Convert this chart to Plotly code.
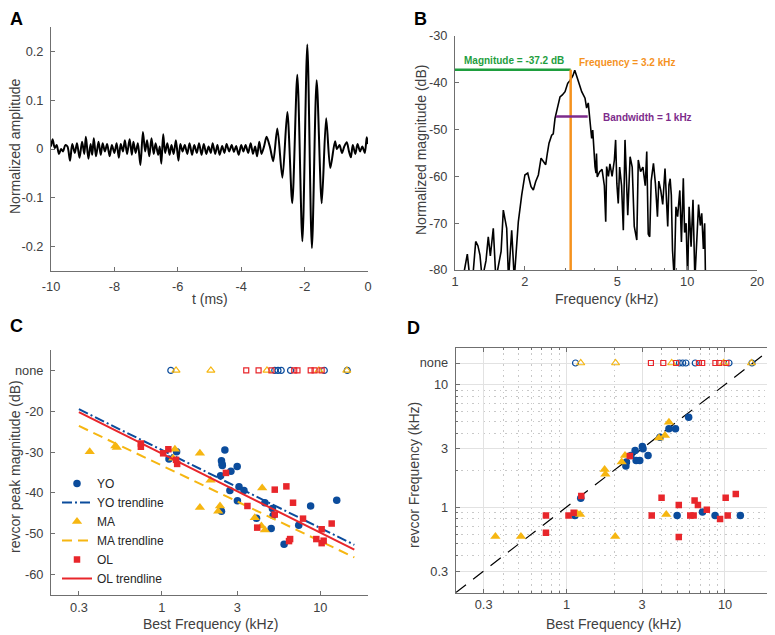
import plotly.graph_objects as go

# ---------------- Panel A: revcor waveform ----------------
wave_t = [-10.00, -9.95, -9.88, -9.82, -9.75, -9.68, -9.62, -9.55, -9.48, -9.40,
          -9.33, -9.25, -9.18, -9.10, -9.02, -8.95, -8.90, -8.82, -8.75, -8.70,
          -8.65, -8.58, -8.50, -8.43, -8.37, -8.30, -8.23, -8.15, -8.08, -8.00,
          -7.93, -7.86, -7.80, -7.73, -7.67, -7.60, -7.52, -7.45, -7.40, -7.33,
          -7.26, -7.18, -7.10, -7.03, -6.97, -6.90, -6.83, -6.76, -6.70, -6.62,
          -6.57, -6.52, -6.46, -6.40, -6.33, -6.26, -6.20, -6.13, -6.06, -5.98,
          -5.92, -5.85, -5.78, -5.70, -5.63, -5.55, -5.48, -5.40, -5.33, -5.25,
          -5.18, -5.10, -5.03, -4.96, -4.90, -4.82, -4.75, -4.68, -4.60, -4.53,
          -4.46, -4.38, -4.30, -4.23, -4.16, -4.08, -4.00, -3.93, -3.86, -3.78,
          -3.70, -3.63, -3.56, -3.50, -3.43, -3.36, -3.28, -3.20, -3.09, -2.99,
          -2.86, -2.70, -2.545, -2.39, -2.23, -2.07, -1.915, -1.77, -1.62, -1.46,
          -1.32, -1.19, -1.04, -0.98, -0.90, -0.82, -0.75, -0.67, -0.60, -0.54,
          -0.48, -0.40, -0.33, -0.25, -0.18, -0.10, -0.04, 0.00]
wave_amp = [0.005, 0.020, 0.002, 0.008, -0.010, 0.000, -0.005, 0.008, 0.005, -0.024,
            0.010, -0.008, 0.012, -0.018, 0.015, -0.010, 0.025, -0.020, 0.010, -0.012,
            0.022, -0.015, 0.015, -0.012, 0.012, -0.005, 0.010, -0.015, 0.008, -0.008,
            0.012, -0.018, 0.010, -0.005, 0.018, -0.010, 0.020, -0.012, 0.015, -0.008,
            0.012, -0.033, 0.035, -0.005, 0.018, -0.015, 0.022, -0.010, 0.012, -0.012,
            0.005, -0.030, 0.030, -0.008, 0.012, -0.012, 0.008, -0.010, 0.018, -0.024,
            0.010, -0.005, 0.008, -0.010, 0.012, -0.012, 0.008, -0.008, 0.012, -0.012,
            0.010, -0.010, 0.005, -0.008, 0.012, -0.010, 0.008, -0.012, 0.006, -0.008,
            0.010, -0.005, 0.008, -0.006, 0.006, -0.012, 0.008, -0.005, 0.008, -0.008,
            0.012, -0.010, 0.005, -0.015, 0.015, -0.010, 0.005, 0.025, 0.003, -0.025,
            0.042, -0.059, 0.076, -0.111, 0.152, -0.189, 0.214, -0.203, 0.141, -0.111,
            0.063, -0.039, 0.016, 0.000, 0.008, -0.008, 0.005, 0.014, -0.005, -0.017,
            0.008, -0.010, 0.010, -0.005, 0.005, -0.008, 0.024, 0.010]

# ---------------- Panel B: spectrum ----------------
spec_f = [1.08, 1.13, 1.16, 1.20, 1.228, 1.255, 1.281, 1.31, 1.36, 1.391,
          1.42, 1.462, 1.50, 1.58, 1.615, 1.670, 1.70, 1.755, 1.80, 1.874,
          1.938, 2.00, 2.057, 2.10, 2.126, 2.175, 2.227, 2.286, 2.348, 2.403,
          2.459, 2.50, 2.541, 2.609, 2.65, 2.697, 2.770, 2.834, 2.90, 2.979,
          3.059, 3.13, 3.22, 3.28, 3.34, 3.42, 3.515, 3.632, 3.69, 3.75,
          3.817, 3.88, 3.92, 3.984, 4.01, 4.05, 4.07, 4.10, 4.20, 4.30,
          4.40, 4.46, 4.50, 4.58, 4.65, 4.75, 4.86, 4.92, 4.98, 5.05,
          5.12, 5.22, 5.31, 5.40, 5.48, 5.55, 5.68, 5.80, 5.92, 6.07,
          6.16, 6.30, 6.45, 6.60, 6.70, 6.80, 6.90, 7.00, 7.16, 7.30,
          7.45, 7.55, 7.70, 7.85, 8.03, 8.15, 8.25, 8.35, 8.45, 8.55,
          8.65, 8.80, 8.95, 9.10, 9.30, 9.45, 9.63, 9.75, 9.90, 10.05,
          10.2, 10.4, 10.6, 10.8, 11.0, 11.2, 11.4, 11.56, 11.75, 11.9, 12.0]
spec_db = [-82, -76.6, -82, -80, -73.9, -74.8, -76.8, -82, -78, -72.9,
           -77, -71.1, -82, -76, -67.2, -71.1, -82, -71.5, -82, -69.7,
           -64.0, -59.7, -59.3, -61.0, -62.2, -62.9, -61.1, -59.7, -56.1, -56.8,
           -57.5, -55.0, -52.9, -51.2, -50.9, -47.6, -45.1, -43.0, -42.6, -41.9,
           -40.1, -39.5, -38.5, -37.3, -38.5, -40.1, -41.9, -43.3, -45.4, -44.3,
           -47.9, -51.9, -50.1, -56.9, -57.9, -59.3, -55.1, -60.1, -59.0, -58.5,
           -62.0, -69.7, -57.9, -60.0, -57.3, -60.0, -56.5, -52.2, -61.5, -65.8,
           -58.0, -62.0, -71.5, -52.2, -61.5, -68.3, -55.8, -58.0, -70.7, -73.6,
           -56.5, -59.0, -58.0, -62.0, -54.7, -72.3, -72.9, -61.0, -57.2, -61.5,
           -68.6, -61.0, -63.0, -66.0, -58.3, -66.5, -70.7, -61.8, -60.5, -64.0,
           -75.7, -82, -66.5, -68.6, -63.0, -74.0, -60.4, -72.0, -70.0, -82,
           -66.5, -75.0, -65.0, -82, -72.5, -66.0, -70.5, -67.9, -75.5, -70.0, -82]
peak_mag = -37.2
peak_freq = 3.15
bw_level = -47.2
bw_lo = 2.72
bw_hi = 3.73

# ---------------- Panel C: revcor peak magnitude vs BF ----------------
c_yo_bf = [1.11, 1.24, 2.50, 2.38, 2.40, 2.41, 2.35, 2.73, 2.99, 2.69, 3.0, 3.07,
           3.30, 2.38, 3.96, 4.47, 4.90, 4.99, 5.04, 5.91, 7.31, 8.69, 12.7]
c_yo_mag = [-31.7, -29.9, -29.5, -32.1, -32.9, -33.3, -35.8, -34.7, -33.5, -39.4, -41.9, -38.5,
            -39.4, -44.5, -46.2, -42.4, -48.7, -43.8, -45.5, -52.6, -47.9, -43.2, -41.8]
c_ma_bf = [0.351, 0.509, 0.52, 1.21, 1.18, 1.74, 2.03, 1.74, 2.33, 2.27, 3.86, 4.30, 4.25, 4.47]
c_ma_mag = [-29.9, -28.5, -28.9, -29.3, -31.5, -30.3, -36.9, -43.6, -43.2, -44.5, -46.1, -38.8, -48.1, -49.1]
c_ol_bf = [0.738, 0.738, 1.02, 1.10, 1.23, 1.25, 2.54, 3.47, 4.0, 5.16, 6.11, 5.16,
           6.73, 6.35, 6.45, 7.78, 9.44, 10.2, 10.2, 10.5, 11.8]
c_ol_mag = [-27.9, -28.7, -30.3, -29.3, -31.9, -32.9, -35.1, -43.2, -48.5, -39.2, -38.4, -45.3,
            -42.4, -51.8, -51.3, -46.3, -51.3, -48.9, -52.3, -51.7, -47.5]
trend_f = [0.3, 16.4]
yo_trend = [-19.5, -52.7]
ma_trend = [-23.6, -55.8]
ol_trend = [-20.2, -53.9]

# neurons with no revcor peak ("none")
none_yo_bf = [1.14, 5.16, 5.41, 5.67, 6.49, 10.6, 14.8]
none_ma_bf = [1.23, 2.04, 4.61, 9.8, 14.7]
none_ol_bf = [3.41, 4.08, 4.92, 6.85, 7.18, 8.7, 9.2, 10.2]
none_c_level = -10
none_d_level = 15

# ---------------- Panel D: revcor frequency vs BF ----------------
d_yo_bf = [1.13, 1.23, 2.37, 2.39, 2.71, 2.75, 2.90, 3.01, 3.04, 3.27, 2.55, 3.89,
           4.43, 4.87, 5.90, 4.99, 7.21, 8.66, 12.5]
d_yo_rf = [0.855, 1.18, 2.16, 2.33, 2.90, 2.40, 2.40, 3.12, 2.99, 2.64, 2.64, 3.72,
           4.35, 4.35, 5.42, 0.855, 0.91, 0.855, 0.855]
d_ma_bf = [0.356, 0.516, 1.17, 1.22, 2.03, 1.74, 1.76, 2.23, 2.34, 3.83, 4.18, 4.43, 4.26]
d_ma_rf = [0.576, 0.576, 0.883, 0.87, 0.576, 2.03, 1.85, 2.33, 2.64, 3.67, 3.84, 4.93, 0.87]
d_ol_bf = [0.742, 0.742, 1.03, 1.11, 1.24, 2.51, 3.45, 3.98, 5.11, 5.11, 6.04, 6.34,
           6.43, 6.75, 7.68, 9.31, 10.1, 10.4, 11.7]
d_ol_rf = [0.855, 0.618, 0.855, 0.90, 1.23, 2.61, 0.855, 1.19, 1.04, 0.57, 0.855, 0.855,
           1.13, 1.04, 0.95, 0.80, 1.19, 0.855, 1.28]
unity = [0.2, 20]

# ---------------- styling ----------------
FONT = "Liberation Sans, Arial, Helvetica, sans-serif"
BLUE = "#0B4C9C"
YEL = "#F6B611"
RED = "#E8262B"
AX = "#6f6f6f"
TXT = "#404040"

# the page body has an 8px margin: figure is sized to fill the rest of the window
OFF = 8
W = 775 - OFF
H = 635 - OFF


def px(x):
    return (x - OFF) / W


def py(y):
    return 1 - (y - OFF) / H


def dom_x(a, b):
    return [px(a), px(b)]


def dom_y(top, bottom):
    return [py(bottom), py(top)]


fig = go.Figure()

# A
fig.add_trace(go.Scatter(x=wave_t, y=wave_amp, mode="lines", line=dict(color="black", width=2, shape="spline", smoothing=0.8),
                         xaxis="x", yaxis="y", showlegend=False))
# B
fig.add_trace(go.Scatter(x=spec_f, y=spec_db, mode="lines", line=dict(color="black", width=1.6),
                         xaxis="x2", yaxis="y2", showlegend=False))
fig.add_trace(go.Scatter(x=[1, peak_freq], y=[peak_mag, peak_mag], mode="lines", line=dict(color="#1E9E3E", width=2.5),
                         xaxis="x2", yaxis="y2", showlegend=False))
fig.add_trace(go.Scatter(x=[peak_freq, peak_freq], y=[-80, peak_mag], mode="lines", line=dict(color="#F5921E", width=2.5),
                         xaxis="x2", yaxis="y2", showlegend=False))
fig.add_trace(go.Scatter(x=[bw_lo, bw_hi], y=[bw_level, bw_level], mode="lines", line=dict(color="#7D2B8B", width=2.5),
                         xaxis="x2", yaxis="y2", showlegend=False))


def pts(x, y, name, color, symbol, size, xa, ya, show, open_=False):
    if open_:
        m = dict(color=color, symbol=symbol + "-open", size=size, line=dict(color=color, width=1.2))
    else:
        m = dict(color=color, symbol=symbol, size=size, line=dict(width=0))
    return go.Scatter(x=x, y=y, mode="markers", marker=m, name=name, xaxis=xa, yaxis=ya, showlegend=show)


# C
fig.add_trace(pts(none_yo_bf, [none_c_level] * len(none_yo_bf), "", BLUE, "circle", 6, "x3", "y3", False, True))
fig.add_trace(pts(none_ma_bf, [none_c_level] * len(none_ma_bf), "", YEL, "triangle-up", 7, "x3", "y3", False, True))
fig.add_trace(pts(none_ol_bf, [none_c_level] * len(none_ol_bf), "", RED, "square", 5, "x3", "y3", False, True))

fig.add_trace(pts(c_yo_bf, c_yo_mag, "YO", BLUE, "circle", 7.5, "x3", "y3", True))
fig.add_trace(go.Scatter(x=trend_f, y=yo_trend, mode="lines", name="YO trendline",
                         line=dict(color=BLUE, width=2, dash="10px,3px,2px,3px"), xaxis="x3", yaxis="y3"))
fig.add_trace(pts(c_ma_bf, c_ma_mag, "MA", YEL, "triangle-up", 9, "x3", "y3", True))
fig.add_trace(go.Scatter(x=trend_f, y=ma_trend, mode="lines", name="MA trendline",
                         line=dict(color=YEL, width=2, dash="10px,6px"), xaxis="x3", yaxis="y3"))
fig.add_trace(pts(c_ol_bf, c_ol_mag, "OL", RED, "square", 6.5, "x3", "y3", True))
fig.add_trace(go.Scatter(x=trend_f, y=ol_trend, mode="lines", name="OL trendline",
                         line=dict(color=RED, width=2), xaxis="x3", yaxis="y3"))

# D
fig.add_trace(go.Scatter(x=unity, y=unity, mode="lines", line=dict(color="black", width=1.2, dash="13px,9px"),
                         xaxis="x4", yaxis="y4", showlegend=False))
fig.add_trace(pts(none_yo_bf, [none_d_level] * len(none_yo_bf), "", BLUE, "circle", 6, "x4", "y4", False, True))
fig.add_trace(pts(none_ma_bf, [none_d_level] * len(none_ma_bf), "", YEL, "triangle-up", 7, "x4", "y4", False, True))
fig.add_trace(pts(none_ol_bf, [none_d_level] * len(none_ol_bf), "", RED, "square", 5, "x4", "y4", False, True))
fig.add_trace(pts(d_yo_bf, d_yo_rf, "", BLUE, "circle", 7.5, "x4", "y4", False))
fig.add_trace(pts(d_ma_bf, d_ma_rf, "", YEL, "triangle-up", 9, "x4", "y4", False))
fig.add_trace(pts(d_ol_bf, d_ol_rf, "", RED, "square", 6.5, "x4", "y4", False))


def axis(domain, anchor, **kw):
    d = dict(domain=domain, anchor=anchor, showline=True, linecolor=AX, linewidth=1,
             ticks="inside", ticklen=4, tickcolor=AX, tickwidth=1,
             tickfont=dict(family=FONT, size=12.8, color=TXT),
             showgrid=False, zeroline=False, fixedrange=True, automargin=False)
    d.update(kw)
    return d


minor_vals = [0.3, 0.4, 0.5, 0.6, 0.7, 0.8, 0.9, 2, 3, 4, 5, 6, 7, 8, 9]
minor_d = dict(tickvals=minor_vals, ticks="inside", ticklen=2, tickcolor=AX,
               showgrid=True, gridcolor="#c8c8c8", gridwidth=1, griddash="1.5px,4px")

fig.update_layout(
    width=W, height=H, margin=dict(l=0, r=0, t=0, b=0, pad=0, autoexpand=False),
    paper_bgcolor="white", plot_bgcolor="white",
    font=dict(family=FONT, size=12, color=TXT),
    xaxis=axis(dom_x(51, 368), "y", range=[-10, 0], tickvals=[-10, -8, -6, -4, -2, 0],
               ticktext=["-10", "-8", "-6", "-4", "-2", "0"], ticklabelstandoff=4),
    yaxis=axis(dom_y(27, 271), "x", range=[-0.25, 0.25], tickvals=[-0.2, -0.1, 0, 0.1, 0.2],
               ticktext=["-0.2", "-0.1", "0", "0.1", "0.2"], ticklabelstandoff=4),
    xaxis2=axis(dom_x(455, 757), "y2", type="log", range=[0, 1.30103], tickvals=[1, 2, 5, 10, 20],
                ticktext=["1", "2", "5", "10", "20"], ticklabelstandoff=0,
                minor=dict(tickvals=[3, 4, 6, 7, 8, 9], ticks="inside", ticklen=2, tickcolor=AX)),
    yaxis2=axis(dom_y(36, 270), "x2", range=[-80, -30], tickvals=[-80, -70, -60, -50, -40, -30],
                ticktext=["-80", "-70", "-60", "-50", "-40", "-30"], ticklabelstandoff=4),
    xaxis3=axis(dom_x(51, 368), "y3", type="log", range=[-0.69897, 1.30103], tickvals=[0.3, 1, 3, 10],
                ticktext=["0.3", "1", "3", "10"], ticklabelstandoff=1),
    yaxis3=axis(dom_y(350, 595), "x3", range=[-65, -5], tickvals=[-60, -50, -40, -30, -20, -10],
                ticktext=["-60", "-50", "-40", "-30", "-20", "none"], ticklabelstandoff=4),
    xaxis4=axis(dom_x(455.7, 772.7), "y4", type="log", range=[-0.69897, 1.30103], tickvals=[0.3, 1, 3, 10],
                ticktext=["0.3", "1", "3", "10"], ticklabelstandoff=0, mirror="allticks",
                showgrid=True, gridcolor="#e2e2e2", gridwidth=1, minor=minor_d),
    yaxis4=axis(dom_y(347.7, 592.7), "x4", type="log", range=[-0.69897, 1.30103], tickvals=[0.3, 1, 3, 10, 15],
                ticktext=["0.3", "1", "3", "10", "none"], ticklabelstandoff=4, mirror="allticks",
                showgrid=True, gridcolor="#e2e2e2", gridwidth=1, minor=minor_d),
    legend=dict(x=px(57), y=py(593), xanchor="left", yanchor="bottom", bgcolor="rgba(0,0,0,0)",
                font=dict(family=FONT, size=12, color="#262626"), tracegroupgap=0, itemwidth=30),
    showlegend=True,
)


def ann(text, x, y, size=14, color=TXT, angle=0, bold=False, xanchor="center", pad=1):
    t = "<b>%s</b>" % text if bold else text
    fig.add_annotation(text=t, x=px(x), y=py(y), xref="paper", yref="paper",
                       showarrow=False, textangle=angle, xanchor=xanchor, yanchor="middle",
                       borderpad=pad, font=dict(family=FONT, size=size, color=color))


# panel letters
ann("A", 16, 19, size=18, color="black", bold=True, pad=0)
ann("B", 420, 19, size=18, color="black", bold=True, pad=0)
ann("C", 16, 326, size=18, color="black", bold=True, pad=0)
ann("D", 413, 328, size=18, color="black", bold=True, pad=0)
# axis titles
ann("Normalized amplitude", 15, 146, angle=-90)
ann("t (ms)", 210, 299)
ann("Normalized magnitude (dB)", 421, 150, angle=-90)
ann("Frequency (kHz)", 606, 299)
ann("revcor peak magnitude (dB)", 15, 467, angle=-90)
ann("Best Frequency (kHz)", 210, 624)
ann("revcor Frequency (kHz)", 414, 475, angle=-90)
ann("Best Frequency (kHz)", 613, 624)
# panel B labels
ann("Magnitude = -37.2 dB", 462, 61, size=10, color="#1E9E3E", bold=True, xanchor="left")
ann("Frequency = 3.2 kHz", 577, 62, size=10, color="#F5921E", bold=True, xanchor="left")
ann("Bandwidth = 1 kHz", 601, 117, size=10, color="#7D2B8B", bold=True, xanchor="left")

fig.write_html("out.html")
